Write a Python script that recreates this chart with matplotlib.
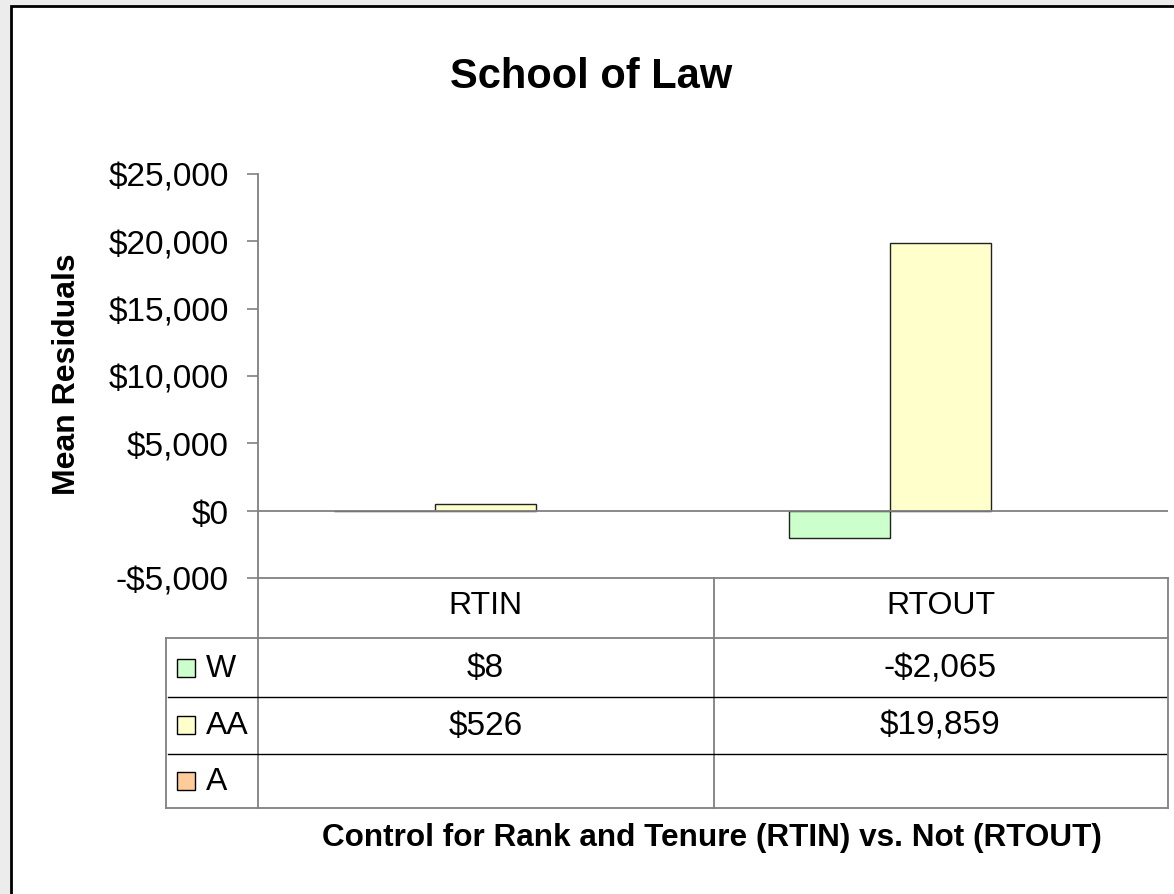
import matplotlib
matplotlib.use('Agg')
import matplotlib.pyplot as plt
import matplotlib.transforms as mtransforms
from matplotlib.lines import Line2D
from matplotlib.patches import Rectangle
import numpy as np

# Data
categories = ['RTIN', 'RTOUT']
series = ['W', 'AA', 'A']
w_vals = [8, -2065]
aa_vals = [526, 19859]
a_vals = [np.nan, np.nan]
colors = ['#CCFFCC', '#FFFFCC', '#FFCC99']
yticks = [-5000, 0, 5000, 10000, 15000, 20000, 25000]

W, H = 1174, 895


def fx(x):
    return x / W


def fy(y):
    return 1 - y / H


def money(v):
    if np.isnan(v):
        return ''
    s = '${:,.0f}'.format(abs(v))
    return '-' + s if v < 0 else s


plt.rcParams['font.family'] = ['Liberation Sans', 'DejaVu Sans']
fig = plt.figure(figsize=(W / 100, H / 100), dpi=100, facecolor='#ECECEC')

# white chart area with black frame (only top/left edges visible)
fig.add_artist(Rectangle((fx(11), fy(H + 30)), 1.2, fy(7) - fy(H + 30),
                         transform=fig.transFigure, facecolor='white',
                         edgecolor='black', lw=2, zorder=-5))

ax = fig.add_axes([fx(258), fy(579), fx(1168) - fx(258), fy(175) - fy(579)])
ax.set_facecolor('none')

x = np.arange(len(categories))
bw = 0.222
for i, vals in enumerate([w_vals, aa_vals, a_vals]):
    ax.bar(x + (i - 1) * bw, vals, bw, color=colors[i], edgecolor='#222222',
           lw=1, zorder=3)

ax.set_xlim(-0.5, 1.5)
ax.set_ylim(-5000, 25000)
ax.axhline(0, color='#808080', lw=1.3, zorder=4)
for s in ['top', 'right']:
    ax.spines[s].set_visible(False)
ax.spines['left'].set_color('#808080')
ax.spines['left'].set_linewidth(1.3)
ax.spines['bottom'].set_color('#808080')
ax.spines['bottom'].set_linewidth(1.3)
ax.set_xticks([])
ax.set_yticks(yticks)
ax.set_yticklabels([money(v) for v in yticks])
ax.tick_params(axis='y', length=8, width=1.2, color='#808080', pad=13,
               labelsize=24)

fig.text(fx(591), fy(77), 'School of Law', fontsize=30, fontweight='bold',
         ha='center', va='center')
fig.text(fx(67), fy(374), 'Mean Residuals', fontsize=23, fontweight='bold',
         rotation=90, ha='center', va='center')
fig.text(fx(712), fy(838), 'Control for Rank and Tenure (RTIN) vs. Not (RTOUT)',
         fontsize=22.7, fontweight='bold', ha='center', va='center')

# data table under the plot
gray = '#808080'


def hline(y, x0, x1, color=gray, lw=1.3):
    fig.add_artist(Line2D([fx(x0), fx(x1)], [fy(y), fy(y)], color=color, lw=lw,
                          transform=fig.transFigure))


def vline(x0, y0, y1, color=gray, lw=1.3):
    fig.add_artist(Line2D([fx(x0), fx(x0)], [fy(y0), fy(y1)], color=color, lw=lw,
                          transform=fig.transFigure))


vline(258, 579, 809)
vline(714, 579, 809)
vline(1168, 579, 809)
vline(166, 639, 809)
hline(639, 166, 1168)
hline(698, 168, 1166, color='black', lw=1)
hline(755, 168, 1166, color='black', lw=1)
hline(809, 166, 1168)

trans = mtransforms.blended_transform_factory(ax.transData, fig.transFigure)
for xi, cat in zip(x, categories):
    fig.text(xi, fy(606), cat, transform=trans, fontsize=23, ha='center',
             va='center')

row_y = [669, 726, 782]
for name, vals, c, ry in zip(series, [w_vals, aa_vals, a_vals], colors, row_y):
    fig.add_artist(Rectangle((fx(177), fy(ry + 9)), fx(18), fy(0) - fy(18),
                             transform=fig.transFigure, facecolor=c,
                             edgecolor='black', lw=1))
    fig.text(fx(206), fy(ry), name, fontsize=23, ha='left', va='center')
    for xi, v in zip(x, vals):
        fig.text(xi, fy(ry), money(v), transform=trans, fontsize=24,
                 ha='center', va='center')

fig.savefig('out.png', dpi=100, facecolor=fig.get_facecolor())
